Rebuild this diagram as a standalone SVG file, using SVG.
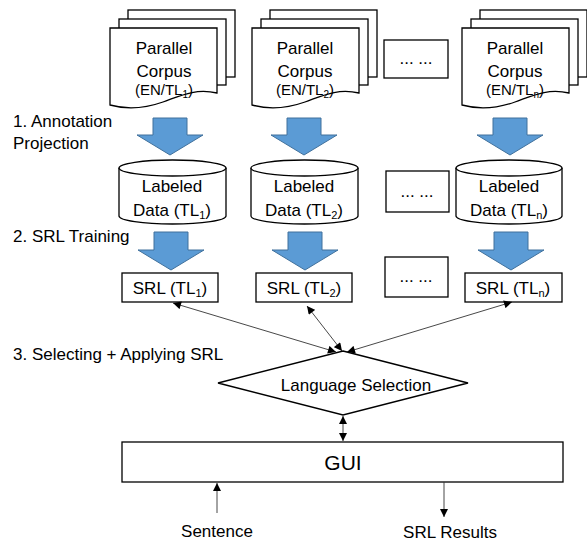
<svg xmlns="http://www.w3.org/2000/svg" width="587" height="543" viewBox="0 0 587 543">
<defs>
<style>
text{font-family:"Liberation Sans",Arial,sans-serif;fill:#000}
.t{font-size:17px}
.c{text-anchor:middle}
.s{font-size:15px}
.shape{fill:#fff;stroke:#000;stroke-width:1.3}
.barrow{fill:#5B9BD5;stroke:#41719C;stroke-width:1}
.conn{fill:none;stroke:#333;stroke-width:0.9}
</style>
<marker id="ah" viewBox="0 0 10 10" refX="10" refY="5" markerWidth="9" markerHeight="8" markerUnits="userSpaceOnUse" orient="auto-start-reverse">
<path d="M0,0 L10,5 L0,10 Z" fill="#000"/>
</marker>
<g id="docshape">
<rect x="18" y="10" width="107" height="67" class="shape"/>
<rect x="9" y="19" width="107" height="66" class="shape"/>
<path d="M0,28 H107 V93 C85,88 70,96 53,102 C36,108 18,110 0,105 Z" class="shape"/>
</g>
</defs>

<g id="labels">
<text class="t" x="13" y="127">1. Annotation</text>
<text class="t" x="13" y="149">Projection</text>
<text class="t" x="13" y="242">2. SRL Training</text>
<text class="t" x="13" y="360">3. Selecting + Applying SRL</text>
</g>

<g id="corpus1">
<use href="#docshape" x="110" y="0"/>
<text class="t c" x="164" y="54">Parallel</text>
<text class="t c" x="164" y="77">Corpus</text>
<text class="s c" x="164" y="95">(EN/TL<tspan font-size="10" dy="3">1</tspan><tspan dy="-3">)</tspan></text>
</g>
<g id="corpus2">
<use href="#docshape" x="252" y="0"/>
<text class="t c" x="305" y="54">Parallel</text>
<text class="t c" x="305" y="77">Corpus</text>
<text class="s c" x="305" y="95">(EN/TL<tspan font-size="10" dy="3">2</tspan><tspan dy="-3">)</tspan></text>
</g>
<g id="corpusN">
<use href="#docshape" x="462" y="0"/>
<text class="t c" x="515" y="54">Parallel</text>
<text class="t c" x="515" y="77">Corpus</text>
<text class="s c" x="515" y="95">(EN/TL<tspan font-size="10" dy="3">n</tspan><tspan dy="-3">)</tspan></text>
</g>
<g id="dots1">
<rect x="384" y="40" width="64" height="38" class="shape"/>
<text class="t c" x="416" y="64">... ...</text>
</g>

<g id="arrows1">
<path class="barrow" d="M153,118 H187 V135 H203 L170,155 L137,135 H153 Z"/>
<path class="barrow" d="M287,118 H321 V135 H337 L304,155 L271,135 H287 Z"/>
<path class="barrow" d="M493,118 H527 V135 H543 L510,155 L477,135 H493 Z"/>
</g>

<g id="data1">
<path class="shape" d="M119,168 A53.5,8 0 0,1 226,168 V216 A53.5,8 0 0,1 119,216 Z"/>
<path class="shape" d="M119,168 A53.5,8 0 0,0 226,168"/>
<text class="t c" x="172" y="192">Labeled</text>
<text class="t c" x="172" y="216">Data (TL<tspan font-size="11" dy="3">1</tspan><tspan dy="-3">)</tspan></text>
</g>
<g id="data2">
<path class="shape" d="M251,168 A53.5,8 0 0,1 358,168 V216 A53.5,8 0 0,1 251,216 Z"/>
<path class="shape" d="M251,168 A53.5,8 0 0,0 358,168"/>
<text class="t c" x="304" y="192">Labeled</text>
<text class="t c" x="304" y="216">Data (TL<tspan font-size="11" dy="3">2</tspan><tspan dy="-3">)</tspan></text>
</g>
<g id="dataN">
<path class="shape" d="M456,168 A53,8 0 0,1 562,168 V216 A53,8 0 0,1 456,216 Z"/>
<path class="shape" d="M456,168 A53,8 0 0,0 562,168"/>
<text class="t c" x="509" y="192">Labeled</text>
<text class="t c" x="509" y="216">Data (TL<tspan font-size="11" dy="3">n</tspan><tspan dy="-3">)</tspan></text>
</g>
<g id="dots2">
<rect x="386" y="171" width="63" height="41" class="shape"/>
<text class="t c" x="417" y="197">... ...</text>
</g>

<g id="arrows2">
<path class="barrow" d="M154,232 H188 V250 H204 L171,270 L138,250 H154 Z"/>
<path class="barrow" d="M288,232 H322 V250 H338 L305,270 L272,250 H288 Z"/>
<path class="barrow" d="M494,232 H528 V250 H544 L511,270 L478,250 H494 Z"/>
</g>

<g id="srl1">
<rect x="122" y="273" width="96" height="29" class="shape"/>
<text class="t c" x="170" y="294">SRL (TL<tspan font-size="11" dy="3">1</tspan><tspan dy="-3">)</tspan></text>
</g>
<g id="srl2">
<rect x="256" y="273" width="96" height="29" class="shape"/>
<text class="t c" x="304" y="294">SRL (TL<tspan font-size="11" dy="3">2</tspan><tspan dy="-3">)</tspan></text>
</g>
<g id="srlN">
<rect x="465" y="273" width="97" height="29" class="shape"/>
<text class="t c" x="513" y="294">SRL (TL<tspan font-size="11" dy="3">n</tspan><tspan dy="-3">)</tspan></text>
</g>
<g id="dots3">
<rect x="385" y="257" width="63" height="40" class="shape"/>
<text class="t c" x="416" y="282">... ...</text>
</g>

<g id="langsel">
<path class="shape" d="M343,351 L468,383 L343,415 L218,383 Z"/>
<text class="t c" x="356" y="391">Language Selection</text>
</g>

<g id="gui">
<rect x="122" y="442" width="441" height="40" class="shape"/>
<text class="c" font-size="21" x="343" y="470">GUI</text>
</g>

<g id="io">
<text class="t c" x="217" y="537">Sentence</text>
<text class="t c" x="450" y="538">SRL Results</text>
</g>

<g id="connectors">
<line class="conn" x1="173" y1="303" x2="336" y2="352" marker-start="url(#ah)" marker-end="url(#ah)"/>
<line class="conn" x1="307" y1="306" x2="342" y2="351" marker-start="url(#ah)" marker-end="url(#ah)"/>
<line class="conn" x1="512" y1="302" x2="347" y2="352" marker-start="url(#ah)" marker-end="url(#ah)"/>
<line class="conn" x1="343" y1="416" x2="343" y2="441" marker-start="url(#ah)" marker-end="url(#ah)"/>
<line class="conn" x1="217" y1="513" x2="217" y2="483" marker-end="url(#ah)"/>
<line class="conn" x1="444" y1="482" x2="444" y2="517" marker-end="url(#ah)"/>
</g>
</svg>
